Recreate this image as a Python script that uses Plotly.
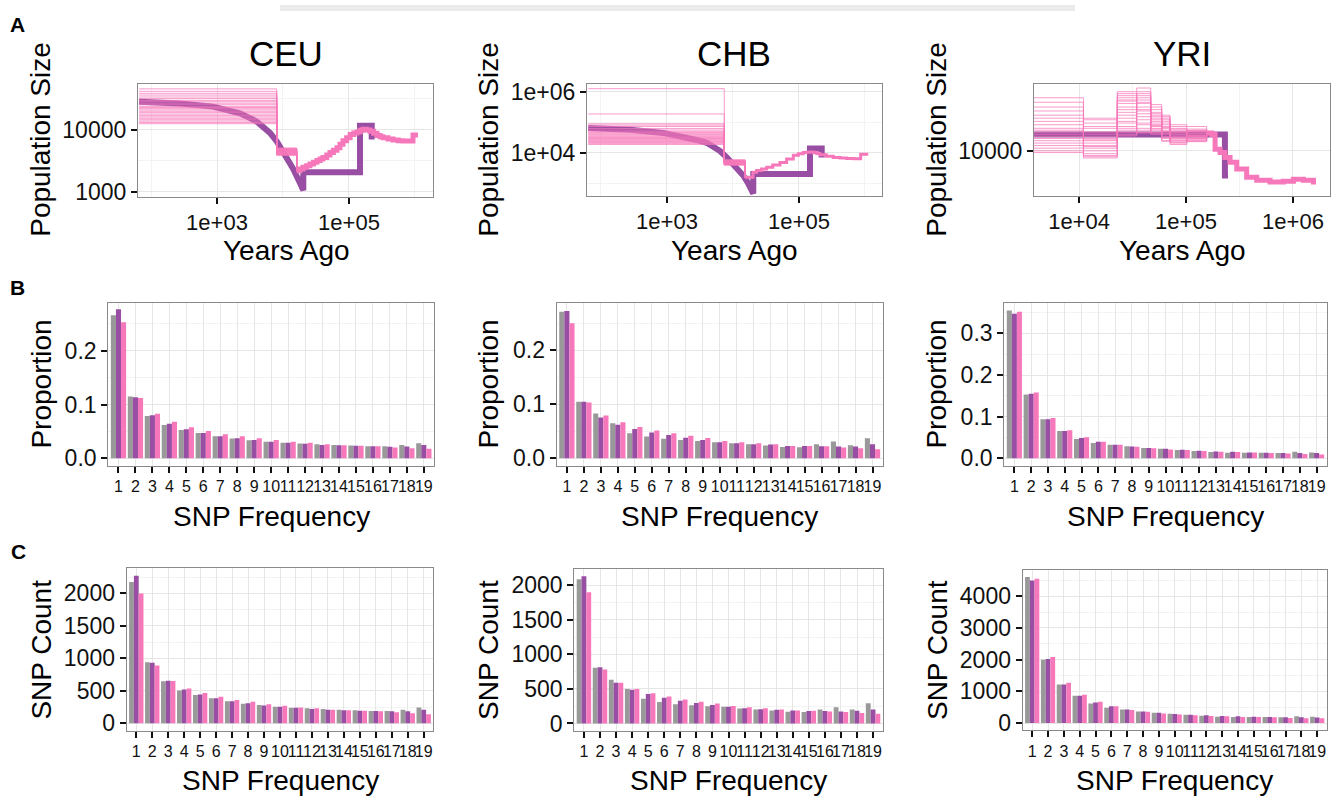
import plotly.graph_objects as go

W, H = 1337, 804

# ---------------- colours ----------------
GRAY = "#999999"
PURPLE = "#984EA3"
PINK = "#F778BA"
PINK_THIN = "rgba(247,120,186,0.75)"

# ---------------- Panel A data (years ago, population size) ----------------
# CEU true model (purple)
ceu_true_t = [66, 137, 275, 870, 1470, 2230, 2950, 3990, 4980, 6350, 8110, 10100, 12100,
              14300, 16900, 20300, 20300, 147000, 147000, 221000, 221000]
ceu_true_n = [28600, 27800, 26800, 23800, 21200, 18600, 16100, 13700, 11200, 8960, 6450, 4310,
              3340, 2340, 1610, 1060, 2070, 2070, 11700, 11700, 7020]
# CEU inferred replicates: recent size and second-epoch size
ceu_rep_t = [66, 8040, 16100]
ceu_rep_recent = [46000, 42000, 39000, 36500, 34000, 32000, 30000, 28500, 27000, 25500, 24000,
                  23000, 22000, 21000, 20000, 19000, 18000, 17000, 16200, 15400, 14600, 13900,
                  13200, 12600]
ceu_rep_block = [5100, 4300, 4700, 3900, 4900, 4500, 4100, 5000, 4400, 4000, 4800, 4600, 4200,
                 3950, 4650, 4350, 5050, 4050, 4750, 4450, 4150, 4550, 4250, 4850]
# CEU inferred shared older history
ceu_old_t = [16100, 18000, 20100, 22800, 25600, 29000, 32700, 36500, 40300, 46000, 51500, 58000,
             65800, 73000, 81100, 92000, 104000, 118000, 132000, 147000, 163000, 185000, 208000,
             236000, 266000, 296000, 327000, 390000, 464000, 560000, 658000, 780000, 933000,
             1110000]
ceu_old_n = [2200, 2350, 2500, 2650, 2810, 3000, 3220, 3400, 3600, 3950, 4320, 4700, 5180, 5900,
             6680, 7500, 8410, 8900, 9300, 9900, 10300, 10000, 9540, 8800, 8120, 7750, 7460,
             7150, 6870, 6700, 6600, 6600, 8300, 8300]

# CHB true model (purple)
chb_true_t = [64, 275, 879, 2230, 3160, 4000, 4980, 6350, 8110, 10100, 11900, 14300, 16900,
              20300, 20300, 147000, 147000, 221000, 221000]
chb_true_n = [64000, 56500, 44200, 30500, 24400, 21000, 16200, 11300, 6900, 4200, 2830, 1770,
              1000, 452, 2000, 2000, 13500, 13500, 6900]
chb_rep_t = [64, 7380, 15200]
chb_rep_recent = [1250000, 185000, 88000, 80000, 72000, 62000, 55000, 50000, 46000, 43000, 40000,
                  37500, 35000, 33000, 31000, 29000, 27500, 26000, 24500, 23000, 21500, 20000,
                  18500]
chb_rep_block = [5800, 4000, 5200, 4600, 3900, 5500, 4300, 4900, 5650, 4100, 5000, 4450, 3950,
                 5350, 4750, 4200, 5100, 4650, 4050, 5450, 4400, 4850, 4550]
chb_old_t = [15200, 20100, 22800, 27000, 32400, 40000, 51500, 65000, 82000, 98000, 116000, 130000,
             147000, 166000, 186000, 208000, 260000, 331000, 420000, 528000, 680000, 860000,
             1120000]
chb_old_n = [1560, 2260, 2570, 2900, 3280, 3900, 4760, 6200, 8180, 9100, 10000, 10300, 10500,
             9900, 9290, 8500, 7600, 6900, 6600, 6400, 6300, 8810, 8810]

# YRI true model (purple)
yri_true_t = [3800, 231000, 231000, 247000]
yri_true_n = [13400, 13400, 6420, 6420]
yri_rep_t = [3800, 11000, 22800, 34600, 46800, 59300, 70900, 101600, 156000]
yri_rep_sizes = [
    [26000, 18000, 29000, 31000, 23000, 19000, 16000, 15500],
    [24000, 12000, 27000, 29000, 21000, 17500, 14500, 14000],
    [22000, 16500, 25000, 27000, 19500, 16000, 13500, 13000],
    [20500, 10500, 23500, 25000, 18000, 15000, 15000, 12500],
    [19000, 14000, 22000, 23500, 17000, 14000, 12500, 14500],
    [18000, 9500, 21000, 22000, 16000, 13000, 12000, 12000],
    [17000, 13000, 20000, 20500, 15500, 18500, 11500, 13500],
    [16000, 11000, 19000, 19500, 15000, 12000, 13000, 12800],
    [15000, 15500, 18000, 18500, 14500, 16500, 14000, 11800],
    [14500, 9000, 17000, 17500, 14000, 12500, 11200, 13200],
    [14000, 12500, 16500, 16500, 20000, 15500, 12800, 12200],
    [13500, 17500, 15500, 16000, 13500, 14500, 15500, 14800],
    [13000, 10000, 15000, 15000, 22000, 13500, 12200, 12600],
    [12500, 11500, 14500, 14500, 18500, 17000, 13800, 13700],
    [12000, 8800, 14000, 14000, 16500, 11900, 11600, 11900],
    [11500, 13500, 13500, 24000, 13800, 14200, 14800, 14200],
    [11000, 10800, 28000, 21000, 15800, 12800, 12600, 13100],
    [10500, 15000, 24500, 26000, 17500, 15200, 13300, 12400],
    [10000, 9200, 13100, 28000, 19000, 13700, 11900, 14400],
    [9700, 12200, 26000, 13800, 14800, 18000, 14200, 12900],
]
yri_old_t = [156000, 174000, 187000, 208000, 231000, 258000, 298000, 369000, 458000, 610000,
             812000, 1010000, 1250000, 1550000, 1640000]
yri_old_n = [13800, 13400, 10300, 9700, 8870, 8130, 7220, 6230, 5880, 5700, 5780, 5990, 5880,
             5700, 5700]

# ---------------- Panels B / C data ----------------
snp_freq = list(range(1, 20))
freq_labels = [str(i) for i in snp_freq]

ceu_prop_gray = [0.266, 0.115, 0.0785, 0.062, 0.0528, 0.047, 0.041, 0.037, 0.0337, 0.031, 0.029,
                 0.0276, 0.0264, 0.025, 0.024, 0.0227, 0.0227, 0.025, 0.028]
ceu_prop_purple = [0.277, 0.1135, 0.080, 0.0644, 0.054, 0.047, 0.041, 0.0374, 0.034, 0.031,
                   0.029, 0.027, 0.025, 0.0245, 0.0233, 0.0227, 0.0215, 0.022, 0.025]
ceu_prop_pink = [0.253, 0.112, 0.083, 0.068, 0.058, 0.051, 0.045, 0.041, 0.0374, 0.034, 0.031,
                 0.029, 0.0264, 0.0245, 0.0233, 0.0227, 0.0202, 0.019, 0.018]

chb_prop_gray = [0.2715, 0.105, 0.083, 0.0648, 0.0467, 0.0406, 0.0364, 0.034, 0.032, 0.0297,
                 0.0279, 0.026, 0.0236, 0.0212, 0.0206, 0.026, 0.031, 0.0242, 0.037]
chb_prop_purple = [0.273, 0.105, 0.0758, 0.0624, 0.0545, 0.0479, 0.043, 0.038, 0.034, 0.0297,
                   0.0279, 0.026, 0.0255, 0.023, 0.023, 0.0224, 0.0218, 0.0218, 0.026]
chb_prop_pink = [0.250, 0.1036, 0.0794, 0.0667, 0.058, 0.0515, 0.0467, 0.0418, 0.0376, 0.032,
                 0.0297, 0.0279, 0.026, 0.023, 0.023, 0.0224, 0.020, 0.0188, 0.017]

yri_prop_gray = [0.355, 0.1535, 0.0937, 0.0654, 0.0465, 0.037, 0.0323, 0.029, 0.025, 0.0228,
                 0.0197, 0.0173, 0.015, 0.0134, 0.0134, 0.0134, 0.0126, 0.0157, 0.0142]
yri_prop_purple = [0.347, 0.155, 0.0937, 0.0654, 0.0488, 0.040, 0.0323, 0.0283, 0.025, 0.0228,
                   0.0205, 0.0181, 0.0165, 0.0157, 0.0142, 0.0134, 0.0126, 0.0126, 0.0126]
yri_prop_pink = [0.352, 0.158, 0.0969, 0.0677, 0.0504, 0.040, 0.0323, 0.0276, 0.0244, 0.0213,
                 0.0197, 0.0173, 0.0157, 0.015, 0.0142, 0.0126, 0.0118, 0.0102, 0.0094]

ceu_count_gray = [2176, 942, 647, 506, 436, 386, 341, 301, 281, 256, 241, 231, 221, 211, 201, 190,
                  190, 211, 246]
ceu_count_purple = [2271, 932, 657, 521, 446, 386, 341, 311, 276, 256, 241, 221, 211, 201, 196,
                    190, 185, 185, 211]
ceu_count_pink = [2000, 892, 652, 536, 466, 411, 361, 331, 296, 271, 246, 231, 211, 201, 196, 185,
                  170, 155, 140]

chb_count_gray = [2085, 805, 631, 499, 358, 311, 278, 264, 249, 240, 216, 202, 188, 169, 165, 202,
                  235, 202, 292]
chb_count_purple = [2127, 814, 588, 489, 424, 372, 329, 296, 268, 240, 221, 207, 198, 188, 179,
                    179, 174, 184, 202]
chb_count_pink = [1897, 781, 588, 499, 438, 391, 348, 315, 287, 254, 235, 221, 202, 188, 184, 174,
                  165, 151, 141]

yri_count_gray = [4608, 2000, 1218, 863, 619, 487, 426, 365, 325, 294, 264, 233, 203, 193, 193,
                  193, 183, 213, 203]
yri_count_purple = [4496, 2020, 1218, 863, 650, 528, 426, 365, 325, 284, 264, 244, 223, 213, 203,
                    193, 183, 183, 173]
yri_count_pink = [4557, 2081, 1269, 893, 670, 528, 416, 355, 305, 274, 244, 223, 213, 193, 193,
                  183, 162, 152, 152]

# ---------------- figure ----------------
fig = go.Figure()
FONT = "Liberation Sans, Arial, Helvetica, sans-serif"


def dx(a, b):
    return [a / W, b / W]


def dy(top, bottom):
    return [1 - bottom / H, 1 - top / H]


def add_model(ax, true_t, true_n, reps, old_t, old_n, old_width):
    xa, ya = "x%d" % ax, "y%d" % ax
    fig.add_trace(go.Scatter(x=true_t, y=true_n, mode="lines", xaxis=xa, yaxis=ya,
                             line=dict(color=PURPLE, width=6), showlegend=False,
                             hoverinfo="skip"))
    for rt, rn in reps:
        fig.add_trace(go.Scatter(x=rt, y=rn, mode="lines", xaxis=xa, yaxis=ya,
                                 line=dict(color=PINK_THIN, width=1, shape="hv"),
                                 showlegend=False, hoverinfo="skip"))
    fig.add_trace(go.Scatter(x=old_t, y=old_n, mode="lines", xaxis=xa, yaxis=ya,
                             line=dict(color=PINK, width=old_width, shape="hv"),
                             showlegend=False, hoverinfo="skip"))


ceu_reps = [(ceu_rep_t, [r, b, ceu_old_n[0]]) for r, b in zip(ceu_rep_recent, ceu_rep_block)]
chb_reps = [(chb_rep_t, [r, b, chb_old_n[0]]) for r, b in zip(chb_rep_recent, chb_rep_block)]
yri_reps = [(yri_rep_t, list(s) + [yri_old_n[0]]) for s in yri_rep_sizes]

add_model(1, ceu_true_t, ceu_true_n, ceu_reps, ceu_old_t, ceu_old_n, 5)
add_model(2, chb_true_t, chb_true_n, chb_reps, chb_old_t, chb_old_n, 3)
add_model(3, yri_true_t, yri_true_n, yri_reps, yri_old_t, yri_old_n, 5)

bar_sets = [
    (4, ceu_prop_gray, ceu_prop_purple, ceu_prop_pink),
    (5, chb_prop_gray, chb_prop_purple, chb_prop_pink),
    (6, yri_prop_gray, yri_prop_purple, yri_prop_pink),
    (7, ceu_count_gray, ceu_count_purple, ceu_count_pink),
    (8, chb_count_gray, chb_count_purple, chb_count_pink),
    (9, yri_count_gray, yri_count_purple, yri_count_pink),
]
for ax, g, p, k in bar_sets:
    for vals, col in ((g, GRAY), (p, PURPLE), (k, PINK)):
        fig.add_trace(go.Bar(x=snp_freq, y=vals, xaxis="x%d" % ax, yaxis="y%d" % ax,
                             marker=dict(color=col, line=dict(width=0)), showlegend=False,
                             hoverinfo="skip"))

GRID = "#e6e6e6"
MINOR = "#f3f3f3"
FRAME = "#8a8a8a"

common = dict(showline=True, mirror=True, linecolor=FRAME, linewidth=1.2, showgrid=True,
              gridcolor=GRID, gridwidth=1, zeroline=False, ticks="outside", ticklen=6,
              tickwidth=2, tickcolor="#111111", tickfont=dict(family=FONT, size=23, color="#111"))

layout_axes = {}
rowA = [(138, 433, 80, 195), (587, 882, 80, 194), (1034, 1330, 80, 194)]
rowB = [(108.3, 434, 303.3, 468.3), (556.7, 882.7, 303.3, 468.3), (1004.3, 1326.7, 303.3, 468.3)]
rowC = [(126.7, 433.3, 572.7, 737.7), (574.3, 882.7, 573.3, 737.7), (1022.7, 1326.7, 574, 737.3)]

a_x = [
    dict(range=[1.803, 6.273], tickvals=[1e3, 1e5], ticktext=["1e+03", "1e+05"],
         minor=dict(tickvals=[1e2, 1e4, 1e6], showgrid=True, gridcolor=MINOR, ticks="")),
    dict(range=[1.788, 6.258], tickvals=[1e3, 1e5], ticktext=["1e+03", "1e+05"],
         minor=dict(tickvals=[1e2, 1e4, 1e6], showgrid=True, gridcolor=MINOR, ticks="")),
    dict(range=[3.579, 6.346], tickvals=[1e4, 1e5, 1e6], ticktext=["1e+04", "1e+05", "1e+06"],
         minor=dict(tickvals=[10 ** 4.5, 10 ** 5.5], showgrid=True, gridcolor=MINOR, ticks="")),
]
a_y = [
    dict(range=[2.92, 4.746], tickvals=[1e3, 1e4], ticktext=["1000", "10000"],
         minor=dict(tickvals=[10 ** 3.5, 10 ** 4.5], showgrid=True, gridcolor=MINOR, ticks="")),
    dict(range=[2.58, 6.26], tickvals=[1e4, 1e6], ticktext=["1e+04", "1e+06"],
         minor=dict(tickvals=[1e3, 1e5], showgrid=True, gridcolor=MINOR, ticks="")),
    dict(range=[3.648, 4.525], tickvals=[1e4], ticktext=["10000"]),
]
for i in range(3):
    x0, x1, t, b = rowA[i]
    n = i + 1
    xa = dict(common)
    xa["tickfont"] = dict(family=FONT, size=22, color="#111")
    layout_axes["xaxis%d" % n] = dict(xa, type="log", domain=dx(x0, x1), anchor="y%d" % n,
                                      tickmode="array", tickangle=0, **a_x[i])
    layout_axes["yaxis%d" % n] = dict(common, type="log", domain=dy(t, b), anchor="x%d" % n,
                                      tickmode="array", **a_y[i])

b_y = [
    dict(range=[-0.0137, 0.288], tickvals=[0, 0.1, 0.2], ticktext=["0.0", "0.1", "0.2"],
         minor=[0.05, 0.15, 0.25]),
    dict(range=[-0.0137, 0.287], tickvals=[0, 0.1, 0.2], ticktext=["0.0", "0.1", "0.2"],
         minor=[0.05, 0.15, 0.25]),
    dict(range=[-0.0178, 0.372], tickvals=[0, 0.1, 0.2, 0.3],
         ticktext=["0.0", "0.1", "0.2", "0.3"], minor=[0.05, 0.15, 0.25, 0.35]),
    dict(range=[-114, 2384], tickvals=[0, 500, 1000, 1500, 2000],
         ticktext=["0", "500", "1000", "1500", "2000"], minor=[250, 750, 1250, 1750, 2250]),
    dict(range=[-106, 2233], tickvals=[0, 500, 1000, 1500, 2000],
         ticktext=["0", "500", "1000", "1500", "2000"], minor=[250, 750, 1250, 1750]),
    dict(range=[-230, 4838], tickvals=[0, 1000, 2000, 3000, 4000],
         ticktext=["0", "1000", "2000", "3000", "4000"], minor=[500, 1500, 2500, 3500, 4500]),
]
bar_doms = rowB + rowC
for j in range(6):
    n = j + 4
    x0, x1, t, b = bar_doms[j]
    spec = dict(b_y[j])
    mn = spec.pop("minor")
    layout_axes["xaxis%d" % n] = dict(common, domain=dx(x0, x1), anchor="y%d" % n,
                                      range=[0.4, 19.6], tickmode="array", tickvals=snp_freq,
                                      ticktext=freq_labels, tickangle=0,
                                      tickfont=dict(family=FONT, size=16, color="#111"))
    layout_axes["yaxis%d" % n] = dict(common, domain=dy(t, b), anchor="x%d" % n,
                                      tickmode="array",
                                      minor=dict(tickvals=mn, showgrid=True, gridcolor=MINOR,
                                                 ticks=""),
                                      **spec)

annotations = []


def txt(s, px, py, size, angle=0, bold=False):
    annotations.append(dict(text=("<b>%s</b>" % s) if bold else s, x=px / W, y=1 - py / H,
                            xref="paper", yref="paper", xanchor="center", yanchor="middle",
                            showarrow=False, textangle=angle,
                            font=dict(family=FONT, size=size, color="#000")))


txt("A", 17, 20, 21, bold=True)
txt("B", 17, 287, 21, bold=True)
txt("C", 18, 555, 21, bold=True)
txt("CEU", 286, 49, 35)
txt("CHB", 734, 49, 35)
txt("YRI", 1182, 49, 35)
for cx, ylabx in ((286, 41), (734, 489), (1182, 937)):
    txt("Years Ago", cx, 250, 28)
    txt("Population Size", ylabx, 137, 28, angle=-90)
for (x0, x1, t, b), ylabx in zip(rowB, (42, 489, 937)):
    txt("SNP Frequency", (x0 + x1) / 2, 520, 28)
    txt("Proportion", ylabx, (t + b) / 2, 28, angle=-90)
for (x0, x1, t, b), ylabx in zip(rowC, (42, 489, 937)):
    txt("SNP Frequency", (x0 + x1) / 2, 788, 28)
    txt("SNP Count", ylabx, (t + b) / 2, 28, angle=-90)

shapes = [dict(type="rect", xref="paper", yref="paper", x0=280 / W, x1=1075 / W, y0=1 - 6 / H,
               y1=1.0, fillcolor="#ebebeb", line=dict(width=0), layer="below")]

fig.update_layout(width=W, height=H, margin=dict(l=0, r=0, t=0, b=0), paper_bgcolor="white",
                  plot_bgcolor="white", barmode="group", bargap=0.1, bargroupgap=0,
                  showlegend=False, annotations=annotations, shapes=shapes,
                  font=dict(family=FONT), **layout_axes)

fig.write_html("out.html")
